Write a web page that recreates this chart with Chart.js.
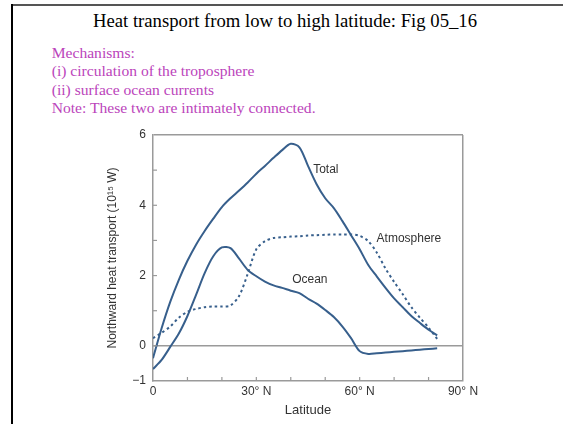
<!DOCTYPE html>
<html><head><meta charset="utf-8">
<script src="https://cdn.jsdelivr.net/npm/chart.js@4"></script>
<style>
html,body{margin:0;padding:0;background:#fff;}
#wrap{position:relative;width:563px;height:424px;overflow:hidden;}
.t{position:absolute;font-family:"Liberation Serif","Times New Roman",serif;white-space:nowrap;line-height:1;}
#title{font-size:18.7px;color:#000;left:0;width:570px;text-align:center;top:11.8px;}
.p{color:#bb44bb;font-size:15.6px;left:51.7px;}
#frameTop{position:absolute;left:11px;top:4px;width:552px;height:2px;background:#555;}
#frameLeft{position:absolute;left:11px;top:4px;width:2px;height:420px;background:#000;}
canvas{position:absolute;left:0;top:0;}
</style></head>
<body>
<div id="wrap">
<div id="frameTop"></div><div id="frameLeft"></div>
<div class="t" id="title">Heat transport from low to high latitude: Fig 05_16</div>
<div class="t p" style="top:44.6px">Mechanisms:</div>
<div class="t p" style="top:62.6px">(i) circulation of the troposphere</div>
<div class="t p" style="top:81.9px">(ii) surface ocean currents</div>
<div class="t p" style="top:99.6px">Note: These two are intimately connected.</div>
<canvas id="c" width="563" height="424"></canvas>
</div>
<script>
// Data
const latitude = [0,2.5,5,7.5,10,12.5,15,17.5,20,22.5,25,27.5,30,32.5,35,37.5,40,42.5,45,47.5,50,52.5,55,57.5,60,62.5,65,67.5,70,72.5,75,77.5,80,82.5];
const totalTransport = [-0.35,0.5,1.25,1.88,2.42,2.88,3.27,3.62,3.95,4.2,4.42,4.65,4.9,5.12,5.35,5.57,5.75,5.65,5.12,4.6,4.2,3.92,3.55,3.15,2.75,2.3,1.97,1.65,1.35,1.1,0.85,0.65,0.46,0.3];
const atmosphereTransport = [0.22,0.37,0.55,0.8,0.97,1.05,1.1,1.12,1.12,1.15,1.42,2.05,2.75,2.98,3.07,3.09,3.11,3.12,3.14,3.15,3.16,3.17,3.17,3.17,3.13,2.98,2.65,2.2,1.82,1.47,1.1,0.8,0.52,0.2];
const oceanTransport = [-0.66,-0.4,-0.03,0.35,0.85,1.45,2.07,2.55,2.8,2.78,2.48,2.16,1.98,1.83,1.72,1.65,1.57,1.5,1.34,1.2,1.02,0.82,0.55,0.22,-0.15,-0.23,-0.21,-0.19,-0.17,-0.15,-0.13,-0.11,-0.09,-0.07];
const seriesNames = ['Total','Atmosphere','Ocean'];
const xTickValues = [0,30,60,90];
const xTickLabels = ['0','30\u00B0 N','60\u00B0 N','90\u00B0 N'];
const yTickValues = [-1,0,2,4,6];
const yTickLabels = ['\u22121','0','2','4','6'];

const lineColor = '#375f8c';
const axisColor = '#9a9a9a';
const textColor = '#333333';
const sans = '"Liberation Sans", Arial, Helvetica, sans-serif';

function pts(vals){ return latitude.map((x,i)=>({x:x,y:vals[i]})); }

const inTicks = {
  id:'inTicks',
  afterDatasetsDraw(chart){
    const {ctx, scales:{x,y}, chartArea:a} = chart;
    ctx.save();
    ctx.strokeStyle = axisColor; ctx.lineWidth = 1.2;
    for(let v=10; v<90; v+=10){
      const px = x.getPixelForValue(v);
      ctx.beginPath(); ctx.moveTo(px,a.bottom); ctx.lineTo(px,a.bottom-4); ctx.stroke();
    }
    for(let v=0; v<=5; v++){
      const py = y.getPixelForValue(v);
      ctx.beginPath(); ctx.moveTo(a.left,py); ctx.lineTo(a.left+4,py); ctx.stroke();
    }
    // curve labels
    const anchors = [[46.5,5.0],[64.9,3.05],[40.4,1.88]];
    ctx.fillStyle = textColor; ctx.font = '12px ' + sans;
    ctx.textAlign = 'left'; ctx.textBaseline = 'middle';
    seriesNames.forEach((n,i)=>{
      ctx.fillText(n, x.getPixelForValue(anchors[i][0]), y.getPixelForValue(anchors[i][1]));
    });
    ctx.restore();
  }
};

new Chart(document.getElementById('c'), {
  type:'line',
  data:{datasets:[
    {label:seriesNames[0], data:pts(totalTransport), borderColor:lineColor, borderWidth:2, pointRadius:0, tension:0.3, fill:false},
    {label:seriesNames[1], data:pts(atmosphereTransport), borderColor:lineColor, borderWidth:2, borderDash:[2.5,3], pointRadius:0, tension:0.3, fill:false},
    {label:seriesNames[2], data:pts(oceanTransport), borderColor:lineColor, borderWidth:2, pointRadius:0, tension:0.3, fill:false}
  ]},
  options:{
    responsive:false, animation:false, devicePixelRatio:1,
    layout:{padding:{left:100,right:100,top:135,bottom:0}},
    plugins:{legend:{display:false}, tooltip:{enabled:false}},
    scales:{
      x:{type:'linear', min:0, max:90,
        afterFit(s){ s.height = 43; },
        ticks:{stepSize:10, autoSkip:false, maxRotation:0, padding:3, color:textColor, font:{family:sans,size:12},
          callback:(v)=>{ const i = xTickValues.indexOf(v); return i<0 ? '' : xTickLabels[i]; }},
        grid:{drawTicks:false, lineWidth:1.5, color:(c)=> (c.tick && c.tick.value===90) ? axisColor : 'rgba(0,0,0,0)'},
        border:{color:axisColor, width:1.5},
        title:{display:true, text:'Latitude', color:textColor, font:{family:sans,size:13}, padding:{top:0,bottom:6}}
      },
      y:{type:'linear', min:-1, max:6,
        afterFit(s){ s.width = 53; },
        ticks:{stepSize:1, autoSkip:false, padding:7, color:textColor, font:{family:sans,size:12},
          callback:(v)=>{ const i = yTickValues.indexOf(v); return i<0 ? '' : yTickLabels[i]; }},
        grid:{drawTicks:false, lineWidth:1.5, color:(c)=> (c.tick && (c.tick.value===0 || c.tick.value===6)) ? axisColor : 'rgba(0,0,0,0)'},
        border:{color:axisColor, width:1.5},
        title:{display:true, text:'Northward heat transport (10\u00B9\u2075 W)', color:textColor, font:{family:sans,size:12}, padding:{top:5,bottom:0}}
      }
    }
  },
  plugins:[inTicks]
});
</script>
</body></html>
